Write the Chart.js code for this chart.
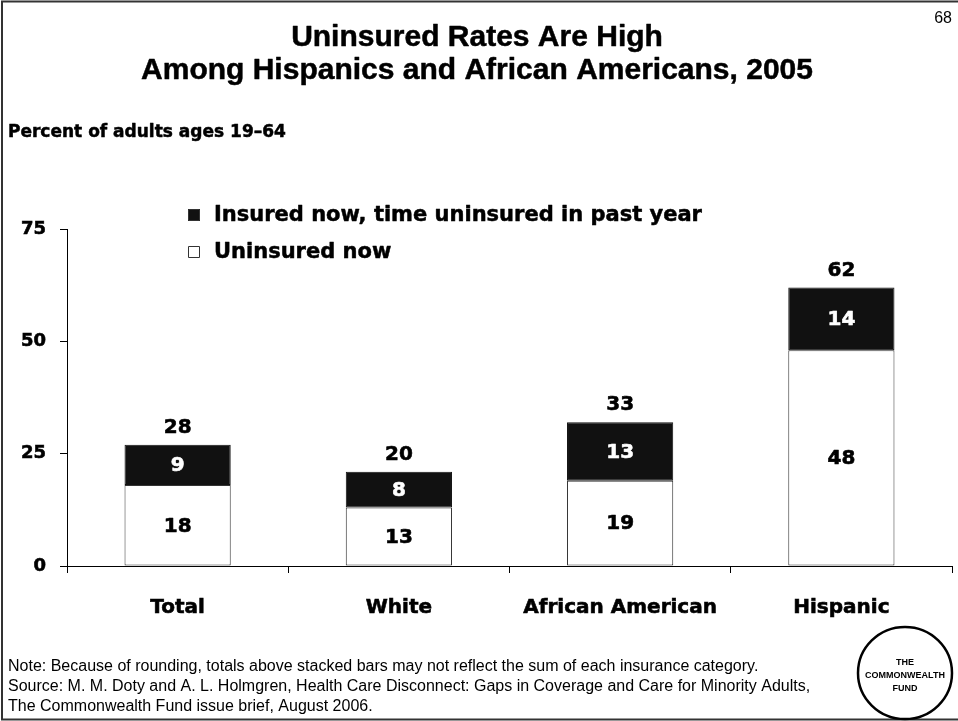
<!DOCTYPE html>
<html>
<head>
<meta charset="utf-8">
<script src="https://cdn.jsdelivr.net/npm/chart.js@4/dist/chart.umd.min.js"></script>
<style>
  html, body { margin: 0; padding: 0; background: #fff; }
  #wrap { position: relative; width: 958px; height: 721px; }
</style>
</head>
<body>
<div id="wrap"><canvas id="chart" width="958" height="721"></canvas></div>
<script>
// data
const categories = ['Total', 'White', 'African American', 'Hispanic'];
const uninsuredNow = [18, 13, 19, 48];
const insuredTimeUninsured = [9, 8, 13, 14];
const totals = [28, 20, 33, 62];   // rounded totals shown above bars

const titleLines = ['Uninsured Rates Are High', 'Among Hispanics and African Americans, 2005'];
const subTitle = 'Percent of adults ages 19\u201364';
const notes = [
  'Note: Because of rounding, totals above stacked bars may not reflect the sum of each insurance category.',
  'Source: M. M. Doty and A. L. Holmgren, Health Care Disconnect: Gaps in Coverage and Care for Minority Adults,',
  'The Commonwealth Fund issue brief, August 2006.'
];

const BOLD = '"DejaVu Sans", sans-serif';
const ARIAL = '"Liberation Sans", Arial, sans-serif';

// bold text with a thin outline, the slide font is heavier than DejaVu bold
function heavyText(ctx, txt, x, y, color, w) {
  ctx.fillStyle = color;
  ctx.strokeStyle = color;
  ctx.lineWidth = w;
  ctx.lineJoin = 'round';
  ctx.strokeText(txt, x, y);
  ctx.fillText(txt, x, y);
}

// labels inside the segments and totals on top
const barLabels = {
  id: 'barLabels',
  afterDatasetsDraw(chart) {
    const ctx = chart.ctx;
    ctx.save();
    ctx.font = 'bold 20px ' + BOLD;
    ctx.textAlign = 'center';
    ctx.textBaseline = 'middle';
    chart.data.datasets.forEach((ds, i) => {
      chart.getDatasetMeta(i).data.forEach((bar, j) => {
        let col = i === 0 ? '#000' : '#fff';
        heavyText(ctx, String(ds.data[j]), bar.x, (bar.y + bar.base) / 2 + 1, col, 0.6);
      });
    });
    // totals above the top segment
    let top = chart.getDatasetMeta(chart.data.datasets.length - 1).data;
    top.forEach((bar, j) => {
      heavyText(ctx, String(totals[j]), bar.x, bar.y - 17, '#000', 0.6);
    });
    ctx.restore();
  }
};

// titles, legend, notes, logo, frame
const slideExtras = {
  id: 'slideExtras',
  afterDraw(chart) {
    const ctx = chart.ctx;
    ctx.save();

    // frame (left, top, bottom)
    ctx.strokeStyle = '#333';
    ctx.lineWidth = 2;
    ctx.beginPath();
    ctx.moveTo(958, 1.5); ctx.lineTo(2, 1.5); ctx.lineTo(2, 719.5); ctx.lineTo(958, 719.5);
    ctx.stroke();

    ctx.fillStyle = '#000';
    ctx.textBaseline = 'middle';

    // title
    ctx.textAlign = 'center';
    ctx.font = 'bold 30px ' + ARIAL;
    heavyText(ctx, titleLines[0], 477, 38, '#000', 0.5);
    heavyText(ctx, titleLines[1], 477, 71, '#000', 0.5);

    // slide number
    ctx.textAlign = 'right';
    ctx.font = '16px ' + ARIAL;
    ctx.fillStyle = '#000';
    ctx.fillText('68', 952, 19);

    // subtitle
    ctx.textAlign = 'left';
    ctx.font = 'bold 17px ' + BOLD;
    heavyText(ctx, subTitle, 8, 133, '#000', 0.5);

    // legend (insured-gap first, like the slide)
    let items = [chart.data.datasets[1], chart.data.datasets[0]];
    ctx.font = 'bold 21px ' + BOLD;
    items.forEach((ds, k) => {
      let y = 216 + k * 37;
      ctx.fillStyle = ds.backgroundColor;
      ctx.fillRect(188, y - 7, 12, 12);
      ctx.strokeStyle = '#333';
      ctx.lineWidth = 1;
      ctx.strokeRect(188.5, y - 6.5, 11, 11);
      heavyText(ctx, ds.label, 214, y, '#000', 0.5);
    });

    // notes
    ctx.font = '16px ' + ARIAL;
    ctx.fillStyle = '#000';
    notes.forEach((line, k) => {
      ctx.fillText(line, 8, 667 + k * 20);
    });

    // logo
    ctx.lineWidth = 2.5;
    ctx.strokeStyle = '#000';
    ctx.beginPath();
    ctx.ellipse(905, 673, 47, 46, 0, 0, Math.PI * 2);
    ctx.stroke();
    ctx.textAlign = 'center';
    ctx.font = 'bold 9px ' + ARIAL;
    ctx.fillStyle = '#000';
    ctx.fillText('THE', 905, 663);
    ctx.fillText('COMMONWEALTH', 905, 676);
    ctx.fillText('FUND', 905, 689);

    ctx.restore();
  }
};

let ctx = document.getElementById('chart').getContext('2d');
let chart = new Chart(ctx, {
  type: 'bar',
  data: {
    labels: categories,
    datasets: [
      {
        label: 'Uninsured now',
        data: uninsuredNow,
        backgroundColor: '#ffffff',
        borderColor: '#333',
        borderWidth: 1,
        borderSkipped: false,
        barPercentage: 0.48,
        categoryPercentage: 1
      },
      {
        label: 'Insured now, time uninsured in past year',
        data: insuredTimeUninsured,
        backgroundColor: '#111111',
        borderColor: '#111111',
        borderWidth: 1,
        borderSkipped: false,
        barPercentage: 0.48,
        categoryPercentage: 1
      }
    ]
  },
  options: {
    responsive: false,
    animation: false,
    layout: { padding: { left: 7, right: 6, top: 229, bottom: 95 } },
    plugins: {
      legend: { display: false },
      title: { display: false },
      tooltip: { enabled: false }
    },
    scales: {
      x: {
        stacked: true,
        afterFit(scale) { scale.height = 60; },
        grid: { drawOnChartArea: false, tickLength: 7, color: '#000', offset: true },
        border: { color: '#000', width: 1 },
        ticks: {
          color: '#000', font: { family: BOLD, size: 20, weight: 'bold' }, padding: 23, maxRotation: 0,
          textStrokeColor: '#000', textStrokeWidth: 0.6
        }
      },
      y: {
        stacked: true,
        min: 0,
        max: 75,
        afterFit(scale) { scale.width = 60; },
        grid: { drawOnChartArea: false, tickLength: 7, color: '#000' },
        border: { color: '#000', width: 1 },
        ticks: {
          stepSize: 25, color: '#000', font: { family: BOLD, size: 18, weight: 'bold' }, padding: 14,
          textStrokeColor: '#000', textStrokeWidth: 0.6
        }
      }
    }
  },
  plugins: [barLabels, slideExtras]
});
</script>
</body>
</html>
